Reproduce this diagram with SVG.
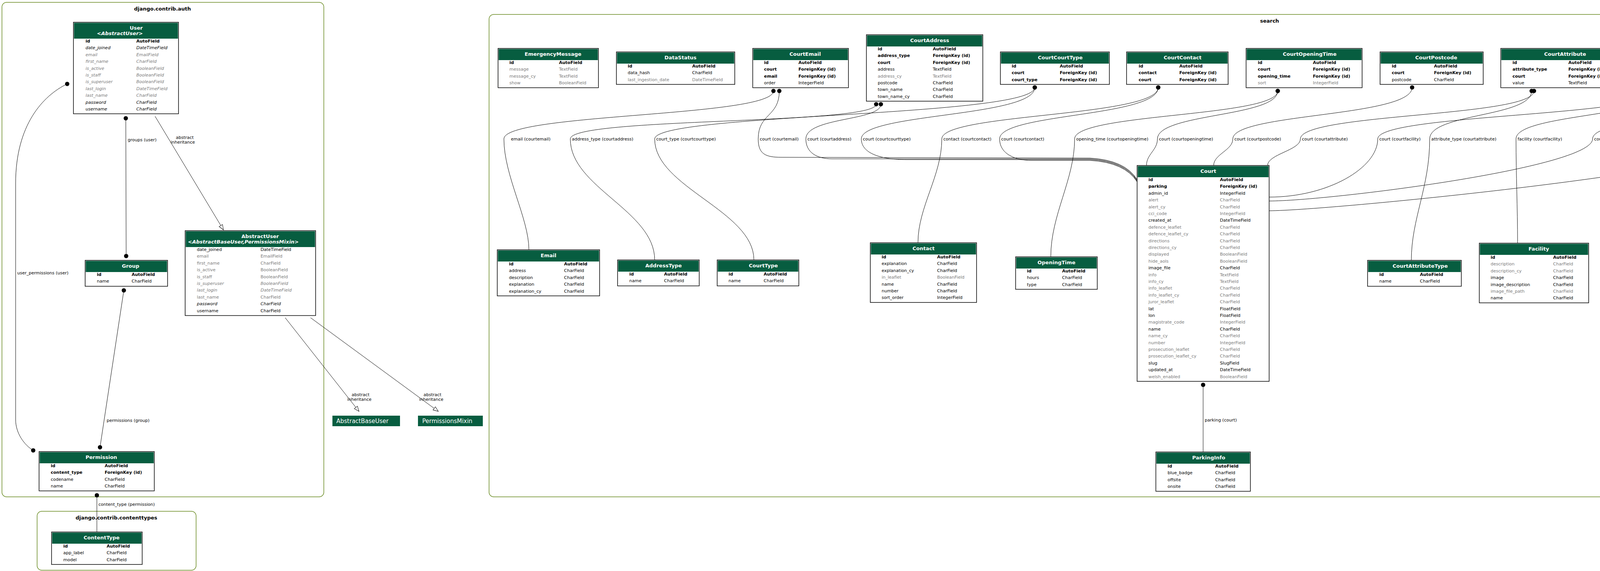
<svg xmlns="http://www.w3.org/2000/svg" width="6539" height="1463" viewBox="0 0 6539 1463">
<style>
text{font-family:"DejaVu Sans",sans-serif;font-size:11px;fill:#000}
.g{fill:#7b7b7b}
.b{font-weight:bold}
.i{font-style:italic}
.h{font-size:13px;font-weight:bold;fill:#fff}
.hb{font-size:15px;fill:#fff}
.ct{font-size:13px;font-weight:bold;text-anchor:middle}
.lm{text-anchor:middle}
.box{fill:#fff;stroke:#000;stroke-width:1.5}
.hd{fill:#075d40}
.cl{fill:none;stroke:#698b22;stroke-width:1.5}
.e{fill:none;stroke:#000;stroke-width:1}
.fk{marker-start:url(#dot)}
.mm{marker-start:url(#dot);marker-end:url(#dot)}
.ih{marker-end:url(#inh)}
</style>
<defs>
<marker id="dot" markerWidth="12" markerHeight="12" refX="6" refY="6" markerUnits="userSpaceOnUse"><circle cx="6" cy="6" r="5.5" fill="#000"/></marker>
<marker id="inh" markerWidth="16" markerHeight="12" refX="14" refY="6" orient="auto" markerUnits="userSpaceOnUse"><path d="M1,1 L14,6 L1,11 z" fill="#fff" stroke="#000" stroke-width="1"/></marker>
</defs>
<rect width="6539" height="1463" fill="#fff"/>

<g id="clusters">
<rect class="cl" x="5" y="6" width="824" height="1267" rx="12"/>
<text class="ct" x="416" y="27">django.contrib.auth</text>
<rect class="cl" x="95" y="1310" width="407" height="151" rx="12"/>
<text class="ct" x="298" y="1331">django.contrib.contenttypes</text>
<rect class="cl" x="1252" y="37" width="3995" height="1236" rx="12"/>
<text class="ct" x="3250" y="58">search</text>
<rect class="cl" x="5260" y="29" width="892" height="255" rx="12"/>
<text class="ct" x="5706" y="48">admin</text>
<rect class="cl" x="6163" y="75" width="371" height="673" rx="12"/>
<text class="ct" x="6348" y="95">django.contrib.sessions</text>
</g>

<g id="connectors">
<path class="e mm" d="M322,303 L323,656"/>
<path class="e mm" d="M172,215 C110,245 40,320 40,470 L40,1075 C40,1110 62,1140 85,1154"/>
<path class="e mm" d="M317,744 L256,1146"/>
<path class="e fk" d="M248,1269 L248,1363"/>
<path class="e ih" d="M397,298 L572,589"/>
<path class="e ih" d="M730,814 L919,1054"/>
<path class="e ih" d="M795,814 L1122,1054"/>
<path class="e ih" d="M6348,228 L6348,664"/>
<path class="e fk" d="M1980,233 C1980,300 1290,290 1290,356 C1290,450 1354,560 1354,640"/>
<path class="e fk" d="M1995,233 C1995,300 1941,290 1941,356 C1941,395 1960,403 2000,403 L2790,405 Q2880,410 2911,460"/>
<path class="e fk" d="M2243,267 C2243,320 1460,300 1460,356 C1460,480 1676,540 1676,666"/>
<path class="e fk" d="M2255,267 C2255,310 2063,300 2063,356 C2063,390 2090,407 2130,407 L2790,407 Q2880,412 2911,462"/>
<path class="e fk" d="M2649,224 C2649,300 1676,290 1676,356 C1676,480 1930,540 1930,666"/>
<path class="e fk" d="M2649,224 C2649,300 2205,290 2205,356 C2205,395 2260,409 2320,409 L2790,409 Q2880,414 2911,464"/>
<path class="e fk" d="M2965,224 C2965,300 2411,290 2411,356 C2411,450 2350,530 2350,622"/>
<path class="e fk" d="M2965,224 C2965,300 2559,290 2559,356 C2559,395 2600,411 2640,411 L2790,411 Q2880,416 2911,466"/>
<path class="e fk" d="M3271,233 C3271,300 2751,290 2751,356 C2751,460 2690,550 2690,658"/>
<path class="e fk" d="M3271,233 C3271,300 2963,290 2963,356 C2963,385 2935,395 2935,424"/>
<path class="e fk" d="M3615,224 C3615,300 3156,290 3156,356 C3156,385 3107,395 3107,424"/>
<path class="e fk" d="M3921,233 C3921,300 3660,290 3660,356 C3660,480 3613,560 3613,667"/>
<path class="e fk" d="M3927,233 C3927,300 3329,290 3329,356 C3329,385 3245,395 3245,424"/>
<path class="e fk" d="M4267,224 C4267,300 3527,290 3527,356 C3527,430 3400,505 3249,505"/>
<path class="e fk" d="M4267,224 C4267,300 3881,290 3881,356 C3881,450 3885,530 3885,623"/>
<path class="e fk" d="M4581,233 C4581,300 4228,290 4228,356 C4228,450 4225,530 4225,615"/>
<path class="e fk" d="M4581,233 C4581,300 4077,290 4077,356 C4077,430 3400,515 3249,515"/>
<path class="e fk" d="M4945,233 L4386,615"/>
<path class="e fk" d="M4958,233 C4958,300 4508,290 4508,356 C4508,430 3400,540 3249,540"/>
<path class="e fk" d="M5025,235 L4982,667"/>
<path class="e fk" d="M3080,986 L3080,1158"/>
<text x="327" y="362">groups (user)</text>
<text x="44" y="703">user_permissions (user)</text>
<text x="273" y="1081">permissions (group)</text>
<text x="252" y="1296">content_type (permission)</text>
<text class="lm" x="473" y="356">abstract</text><text class="lm" x="468" y="368">inheritance</text>
<text class="lm" x="923" y="1015">abstract</text><text class="lm" x="920" y="1027">inheritance</text>
<text class="lm" x="1107" y="1015">abstract</text><text class="lm" x="1104" y="1027">inheritance</text>
<text class="lm" x="6382" y="354">abstract</text><text class="lm" x="6380" y="366">inheritance</text>
<text x="1308" y="360">email (courtemail)</text>
<text x="1464" y="360">address_type (courtaddress)</text>
<text x="1680" y="360">court_type (courtcourttype)</text>
<text x="1945" y="360">court (courtemail)</text>
<text x="2067" y="360">court (courtaddress)</text>
<text x="2209" y="360">court (courtcourttype)</text>
<text x="2415" y="360">contact (courtcontact)</text>
<text x="2563" y="360">court (courtcontact)</text>
<text x="2755" y="360">opening_time (courtopeningtime)</text>
<text x="2967" y="360">court (courtopeningtime)</text>
<text x="3160" y="360">court (courtpostcode)</text>
<text x="3333" y="360">court (courtattribute)</text>
<text x="3531" y="360">court (courtfacility)</text>
<text x="3664" y="360">attribute_type (courtattribute)</text>
<text x="3885" y="360">facility (courtfacility)</text>
<text x="4081" y="360">court (courtareaoflaw)</text>
<text x="4232" y="360">area_of_law (courtareaoflaw)</text>
<text x="4512" y="360">court (courtlocalauthorityareaoflaw)</text>
<text x="4763" y="360">area_of_law (courtlocalauthorityareaoflaw)</text>
<text x="5018" y="360">local_authority (courtlocalauthorityareaoflaw)</text>
<text x="3084" y="1080">parking (court)</text>
</g>

<g id="n-User">
<rect class="box" x="188" y="57" width="269" height="234.5"/>
<rect class="hd" x="189.5" y="58.5" width="266" height="40.5"/>
<text class="h" x="332" y="76">User</text>
<text class="h i" x="248" y="89.5">&lt;AbstractUser&gt;</text>
<text class="b" x="219" y="109">id</text><text class="b" x="349" y="109">AutoField</text>
<text class="i" x="219" y="126.4">date_joined</text><text class="i" x="349" y="126.4">DateTimeField</text>
<text class="i g" x="219" y="143.8">email</text><text class="i g" x="349" y="143.8">EmailField</text>
<text class="i g" x="219" y="161.2">first_name</text><text class="i g" x="349" y="161.2">CharField</text>
<text class="i g" x="219" y="178.6">is_active</text><text class="i g" x="349" y="178.6">BooleanField</text>
<text class="i g" x="219" y="196">is_staff</text><text class="i g" x="349" y="196">BooleanField</text>
<text class="i g" x="219" y="213.4">is_superuser</text><text class="i g" x="349" y="213.4">BooleanField</text>
<text class="i g" x="219" y="230.8">last_login</text><text class="i g" x="349" y="230.8">DateTimeField</text>
<text class="i g" x="219" y="248.2">last_name</text><text class="i g" x="349" y="248.2">CharField</text>
<text class="i" x="219" y="265.6">password</text><text class="i" x="349" y="265.6">CharField</text>
<text class="i" x="219" y="283">username</text><text class="i" x="349" y="283">CharField</text>
</g>

<g id="n-AbstractUser">
<rect class="box" x="474" y="591" width="334" height="217.5"/>
<rect class="hd" x="475.5" y="592.5" width="331" height="40.5"/>
<text class="h" x="618" y="610">AbstractUser</text>
<text class="h i" x="481" y="623.5">&lt;AbstractBaseUser,PermissionsMixin&gt;</text>
<text x="504" y="643">date_joined</text><text x="667" y="643">DateTimeField</text>
<text class="g" x="504" y="660.4">email</text><text class="g" x="667" y="660.4">EmailField</text>
<text class="g" x="504" y="677.8">first_name</text><text class="g" x="667" y="677.8">CharField</text>
<text class="g" x="504" y="695.2">is_active</text><text class="g" x="667" y="695.2">BooleanField</text>
<text class="g" x="504" y="712.6">is_staff</text><text class="g" x="667" y="712.6">BooleanField</text>
<text class="g i" x="504" y="730">is_superuser</text><text class="g i" x="667" y="730">BooleanField</text>
<text class="g i" x="504" y="747.4">last_login</text><text class="g i" x="667" y="747.4">DateTimeField</text>
<text class="g" x="504" y="764.8">last_name</text><text class="g" x="667" y="764.8">CharField</text>
<text class="i" x="504" y="782.2">password</text><text class="i" x="667" y="782.2">CharField</text>
<text x="504" y="799.6">username</text><text x="667" y="799.6">CharField</text>
</g>

<g id="n-Group">
<rect class="box" x="218" y="667" width="211" height="66.5"/>
<rect class="hd" x="219.5" y="668.5" width="208" height="28.5"/>
<text class="h" x="312" y="685.5">Group</text>
<text class="b" x="248" y="707">id</text><text class="b" x="337" y="707">AutoField</text>
<text x="248" y="724.4">name</text><text x="337" y="724.4">CharField</text>
</g>

<g id="n-Permission">
<rect class="box" x="100" y="1157" width="295" height="100.7"/>
<rect class="hd" x="101.5" y="1158.5" width="292" height="28.5"/>
<text class="h" x="219" y="1175.5">Permission</text>
<text class="b" x="130" y="1197">id</text><text class="b" x="268" y="1197">AutoField</text>
<text class="b" x="130" y="1214.4">content_type</text><text class="b" x="268" y="1214.4">ForeignKey (id)</text>
<text x="130" y="1231.8">codename</text><text x="268" y="1231.8">CharField</text>
<text x="130" y="1249.2">name</text><text x="268" y="1249.2">CharField</text>
</g>

<g id="n-ContentType">
<rect class="box" x="132" y="1363" width="232" height="83.3"/>
<rect class="hd" x="133.5" y="1364.5" width="229" height="28.5"/>
<text class="h" x="214" y="1381.5">ContentType</text>
<text class="b" x="162" y="1403">id</text><text class="b" x="273" y="1403">AutoField</text>
<text x="162" y="1420.4">app_label</text><text x="273" y="1420.4">CharField</text>
<text x="162" y="1437.8">model</text><text x="273" y="1437.8">CharField</text>
</g>

<g id="n-AbstractBaseUser">
<rect class="hd" x="851" y="1065" width="173" height="27"/>
<text class="hb" x="861" y="1083.5">AbstractBaseUser</text>
</g>
<g id="n-PermissionsMixin">
<rect class="hd" x="1070" y="1065" width="166" height="27"/>
<text class="hb" x="1081" y="1083.5">PermissionsMixin</text>
</g>

<g id="n-EmergencyMessage">
<rect class="box" x="1275" y="124" width="257" height="100.7"/>
<rect class="hd" x="1276.5" y="125.5" width="254" height="28.5"/>
<text class="h" x="1343" y="142.5">EmergencyMessage</text>
<text class="b" x="1304" y="164">id</text><text class="b" x="1431" y="164">AutoField</text>
<text class="g" x="1304" y="181.4">message</text><text class="g" x="1431" y="181.4">TextField</text>
<text class="g" x="1304" y="198.8">message_cy</text><text class="g" x="1431" y="198.8">TextField</text>
<text class="g" x="1304" y="216.2">show</text><text class="g" x="1431" y="216.2">BooleanField</text>
</g>

<g id="n-DataStatus">
<rect class="box" x="1578" y="133" width="303" height="83.3"/>
<rect class="hd" x="1579.5" y="134.5" width="300" height="28.5"/>
<text class="h" x="1701" y="151.5">DataStatus</text>
<text class="b" x="1607" y="173">id</text><text class="b" x="1772" y="173">AutoField</text>
<text x="1607" y="190.4">data_hash</text><text x="1772" y="190.4">CharField</text>
<text class="g" x="1607" y="207.8">last_ingestion_date</text><text class="g" x="1772" y="207.8">DateTimeField</text>
</g>

<g id="n-CourtEmail">
<rect class="box" x="1927" y="124" width="245" height="100.7"/>
<rect class="hd" x="1928.5" y="125.5" width="242" height="28.5"/>
<text class="h" x="2021" y="142.5">CourtEmail</text>
<text class="b" x="1956" y="164">id</text><text class="b" x="2044" y="164">AutoField</text>
<text class="b" x="1956" y="181.4">court</text><text class="b" x="2044" y="181.4">ForeignKey (id)</text>
<text class="b" x="1956" y="198.8">email</text><text class="b" x="2044" y="198.8">ForeignKey (id)</text>
<text x="1956" y="216.2">order</text><text x="2044" y="216.2">IntegerField</text>
</g>

<g id="n-CourtAddress">
<rect class="box" x="2218" y="89" width="298" height="170.3"/>
<rect class="hd" x="2219.5" y="90.5" width="295" height="28.5"/>
<text class="h" x="2330" y="107.5">CourtAddress</text>
<text class="b" x="2247" y="129">id</text><text class="b" x="2388" y="129">AutoField</text>
<text class="b" x="2247" y="146.4">address_type</text><text class="b" x="2388" y="146.4">ForeignKey (id)</text>
<text class="b" x="2247" y="163.8">court</text><text class="b" x="2388" y="163.8">ForeignKey (id)</text>
<text x="2247" y="181.2">address</text><text x="2388" y="181.2">TextField</text>
<text class="g" x="2247" y="198.6">address_cy</text><text class="g" x="2388" y="198.6">TextField</text>
<text x="2247" y="216">postcode</text><text x="2388" y="216">CharField</text>
<text x="2247" y="233.4">town_name</text><text x="2388" y="233.4">CharField</text>
<text x="2247" y="250.8">town_name_cy</text><text x="2388" y="250.8">CharField</text>
</g>

<g id="n-CourtCourtType">
<rect class="box" x="2561" y="133" width="279" height="83.3"/>
<rect class="hd" x="2562.5" y="134.5" width="276" height="28.5"/>
<text class="h" x="2657" y="151.5">CourtCourtType</text>
<text class="b" x="2590" y="173">id</text><text class="b" x="2713" y="173">AutoField</text>
<text class="b" x="2590" y="190.4">court</text><text class="b" x="2713" y="190.4">ForeignKey (id)</text>
<text class="b" x="2590" y="207.8">court_type</text><text class="b" x="2713" y="207.8">ForeignKey (id)</text>
</g>

<g id="n-CourtContact">
<rect class="box" x="2884" y="133" width="260" height="83.3"/>
<rect class="hd" x="2885.5" y="134.5" width="257" height="28.5"/>
<text class="h" x="2979" y="151.5">CourtContact</text>
<text class="b" x="2915" y="173">id</text><text class="b" x="3019" y="173">AutoField</text>
<text class="b" x="2915" y="190.4">contact</text><text class="b" x="3019" y="190.4">ForeignKey (id)</text>
<text class="b" x="2915" y="207.8">court</text><text class="b" x="3019" y="207.8">ForeignKey (id)</text>
</g>

<g id="n-CourtOpeningTime">
<rect class="box" x="3190" y="124" width="297" height="100.7"/>
<rect class="hd" x="3191.5" y="125.5" width="294" height="28.5"/>
<text class="h" x="3284" y="142.5">CourtOpeningTime</text>
<text class="b" x="3220" y="164">id</text><text class="b" x="3361" y="164">AutoField</text>
<text class="b" x="3220" y="181.4">court</text><text class="b" x="3361" y="181.4">ForeignKey (id)</text>
<text class="b" x="3220" y="198.8">opening_time</text><text class="b" x="3361" y="198.8">ForeignKey (id)</text>
<text class="g" x="3220" y="216.2">sort</text><text class="g" x="3361" y="216.2">IntegerField</text>
</g>

<g id="n-CourtPostcode">
<rect class="box" x="3533" y="133" width="264" height="83.3"/>
<rect class="hd" x="3534.5" y="134.5" width="261" height="28.5"/>
<text class="h" x="3623" y="151.5">CourtPostcode</text>
<text class="b" x="3563" y="173">id</text><text class="b" x="3671" y="173">AutoField</text>
<text class="b" x="3563" y="190.4">court</text><text class="b" x="3671" y="190.4">ForeignKey (id)</text>
<text x="3563" y="207.8">postcode</text><text x="3671" y="207.8">CharField</text>
</g>

<g id="n-CourtAttribute">
<rect class="box" x="3842" y="124" width="300" height="100.7"/>
<rect class="hd" x="3843.5" y="125.5" width="297" height="28.5"/>
<text class="h" x="3953" y="142.5">CourtAttribute</text>
<text class="b" x="3872" y="164">id</text><text class="b" x="4015" y="164">AutoField</text>
<text class="b" x="3872" y="181.4">attribute_type</text><text class="b" x="4015" y="181.4">ForeignKey (id)</text>
<text class="b" x="3872" y="198.8">court</text><text class="b" x="4015" y="198.8">ForeignKey (id)</text>
<text x="3872" y="216.2">value</text><text x="4015" y="216.2">TextField</text>
</g>

<g id="n-CourtFacility">
<rect class="box" x="4188" y="133" width="256" height="83.3"/>
<rect class="hd" x="4189.5" y="134.5" width="253" height="28.5"/>
<text class="h" x="4283" y="151.5">CourtFacility</text>
<text class="b" x="4217" y="173">id</text><text class="b" x="4317" y="173">AutoField</text>
<text class="b" x="4217" y="190.4">court</text><text class="b" x="4317" y="190.4">ForeignKey (id)</text>
<text class="b" x="4217" y="207.8">facility</text><text class="b" x="4317" y="207.8">ForeignKey (id)</text>
</g>

<g id="n-CourtAreaOfLaw">
<rect class="box" x="4489" y="124" width="334" height="100.7"/>
<rect class="hd" x="4490.5" y="125.5" width="331" height="28.5"/>
<text class="h" x="4608" y="142.5">CourtAreaOfLaw</text>
<text class="b" x="4519" y="164">id</text><text class="b" x="4696" y="164">AutoField</text>
<text class="b" x="4519" y="181.4">area_of_law</text><text class="b" x="4696" y="181.4">ForeignKey (id)</text>
<text class="b" x="4519" y="198.8">court</text><text class="b" x="4696" y="198.8">ForeignKey (id)</text>
<text class="g" x="4519" y="216.2">single_point_of_entry</text><text class="g" x="4696" y="216.2">BooleanField</text>
</g>

<g id="n-CourtLocalAuthorityAreaOfLaw">
<rect class="box" x="4868" y="124" width="327" height="100.7"/>
<rect class="hd" x="4869.5" y="125.5" width="324" height="28.5"/>
<text class="h" x="4933" y="142.5">CourtLocalAuthorityAreaOfLaw</text>
<text class="b" x="4899" y="164">id</text><text class="b" x="5059" y="164">AutoField</text>
<text class="b" x="4899" y="181.4">area_of_law</text><text class="b" x="5059" y="181.4">ForeignKey (id)</text>
<text class="b" x="4899" y="198.8">court</text><text class="b" x="5059" y="198.8">ForeignKey (id)</text>
<text class="b" x="4899" y="216.2">local_authority</text><text class="b" x="5059" y="216.2">ForeignKey (id)</text>
</g>

<g id="n-Court">
<rect class="box" x="2911" y="424" width="338" height="553.1"/>
<rect class="hd" x="2912.5" y="425.5" width="335" height="28.5"/>
<text class="h" x="3073" y="442.5">Court</text>
<text class="b" x="2940" y="464">id</text><text class="b" x="3123" y="464">AutoField</text>
<text class="b" x="2940" y="481.4">parking</text><text class="b" x="3123" y="481.4">ForeignKey (id)</text>
<text x="2940" y="498.8">admin_id</text><text x="3123" y="498.8">IntegerField</text>
<text class="g" x="2940" y="516.2">alert</text><text class="g" x="3123" y="516.2">CharField</text>
<text class="g" x="2940" y="533.6">alert_cy</text><text class="g" x="3123" y="533.6">CharField</text>
<text class="g" x="2940" y="551">cci_code</text><text class="g" x="3123" y="551">IntegerField</text>
<text x="2940" y="568.4">created_at</text><text x="3123" y="568.4">DateTimeField</text>
<text class="g" x="2940" y="585.8">defence_leaflet</text><text class="g" x="3123" y="585.8">CharField</text>
<text class="g" x="2940" y="603.2">defence_leaflet_cy</text><text class="g" x="3123" y="603.2">CharField</text>
<text class="g" x="2940" y="620.6">directions</text><text class="g" x="3123" y="620.6">CharField</text>
<text class="g" x="2940" y="638">directions_cy</text><text class="g" x="3123" y="638">CharField</text>
<text class="g" x="2940" y="655.4">displayed</text><text class="g" x="3123" y="655.4">BooleanField</text>
<text class="g" x="2940" y="672.8">hide_aols</text><text class="g" x="3123" y="672.8">BooleanField</text>
<text x="2940" y="690.2">image_file</text><text x="3123" y="690.2">CharField</text>
<text class="g" x="2940" y="707.6">info</text><text class="g" x="3123" y="707.6">TextField</text>
<text class="g" x="2940" y="725">info_cy</text><text class="g" x="3123" y="725">TextField</text>
<text class="g" x="2940" y="742.4">info_leaflet</text><text class="g" x="3123" y="742.4">CharField</text>
<text class="g" x="2940" y="759.8">info_leaflet_cy</text><text class="g" x="3123" y="759.8">CharField</text>
<text class="g" x="2940" y="777.2">juror_leaflet</text><text class="g" x="3123" y="777.2">CharField</text>
<text x="2940" y="794.6">lat</text><text x="3123" y="794.6">FloatField</text>
<text x="2940" y="812">lon</text><text x="3123" y="812">FloatField</text>
<text class="g" x="2940" y="829.4">magistrate_code</text><text class="g" x="3123" y="829.4">IntegerField</text>
<text x="2940" y="846.8">name</text><text x="3123" y="846.8">CharField</text>
<text class="g" x="2940" y="864.2">name_cy</text><text class="g" x="3123" y="864.2">CharField</text>
<text class="g" x="2940" y="881.6">number</text><text class="g" x="3123" y="881.6">IntegerField</text>
<text class="g" x="2940" y="899">prosecution_leaflet</text><text class="g" x="3123" y="899">CharField</text>
<text class="g" x="2940" y="916.4">prosecution_leaflet_cy</text><text class="g" x="3123" y="916.4">CharField</text>
<text x="2940" y="933.8">slug</text><text x="3123" y="933.8">SlugField</text>
<text x="2940" y="951.2">updated_at</text><text x="3123" y="951.2">DateTimeField</text>
<text class="g" x="2940" y="968.6">welsh_enabled</text><text class="g" x="3123" y="968.6">BooleanField</text>
</g>

<g id="n-ParkingInfo">
<rect class="box" x="2959" y="1158" width="242" height="100.7"/>
<rect class="hd" x="2960.5" y="1159.5" width="239" height="28.5"/>
<text class="h" x="3052" y="1176.5">ParkingInfo</text>
<text class="b" x="2989" y="1198">id</text><text class="b" x="3111" y="1198">AutoField</text>
<text x="2989" y="1215.4">blue_badge</text><text x="3111" y="1215.4">CharField</text>
<text x="2989" y="1232.8">offsite</text><text x="3111" y="1232.8">CharField</text>
<text x="2989" y="1250.2">onsite</text><text x="3111" y="1250.2">CharField</text>
</g>

<g id="n-Email">
<rect class="box" x="1273" y="640" width="262" height="118.1"/>
<rect class="hd" x="1274.5" y="641.5" width="259" height="28.5"/>
<text class="h" x="1384" y="658.5">Email</text>
<text class="b" x="1303" y="680">id</text><text class="b" x="1444" y="680">AutoField</text>
<text x="1303" y="697.4">address</text><text x="1444" y="697.4">CharField</text>
<text x="1303" y="714.8">description</text><text x="1444" y="714.8">CharField</text>
<text x="1303" y="732.2">explanation</text><text x="1444" y="732.2">CharField</text>
<text x="1303" y="749.6">explanation_cy</text><text x="1444" y="749.6">CharField</text>
</g>

<g id="n-AddressType">
<rect class="box" x="1581" y="666" width="209" height="66.5"/>
<rect class="hd" x="1582.5" y="667.5" width="206" height="28.5"/>
<text class="h" x="1652" y="684.5">AddressType</text>
<text class="b" x="1611" y="706">id</text><text class="b" x="1700" y="706">AutoField</text>
<text x="1611" y="723.4">name</text><text x="1700" y="723.4">CharField</text>
</g>

<g id="n-CourtType">
<rect class="box" x="1836" y="666" width="209" height="66.5"/>
<rect class="hd" x="1837.5" y="667.5" width="206" height="28.5"/>
<text class="h" x="1917" y="684.5">CourtType</text>
<text class="b" x="1865" y="706">id</text><text class="b" x="1955" y="706">AutoField</text>
<text x="1865" y="723.4">name</text><text x="1955" y="723.4">CharField</text>
</g>

<g id="n-Contact">
<rect class="box" x="2228" y="622" width="272" height="152.9"/>
<rect class="hd" x="2229.5" y="623.5" width="269" height="28.5"/>
<text class="h" x="2336" y="640.5">Contact</text>
<text class="b" x="2257" y="662">id</text><text class="b" x="2399" y="662">AutoField</text>
<text x="2257" y="679.4">explanation</text><text x="2399" y="679.4">CharField</text>
<text x="2257" y="696.8">explanation_cy</text><text x="2399" y="696.8">CharField</text>
<text class="g" x="2257" y="714.2">in_leaflet</text><text class="g" x="2399" y="714.2">BooleanField</text>
<text x="2257" y="731.6">name</text><text x="2399" y="731.6">CharField</text>
<text x="2257" y="749">number</text><text x="2399" y="749">CharField</text>
<text x="2257" y="766.4">sort_order</text><text x="2399" y="766.4">IntegerField</text>
</g>

<g id="n-OpeningTime">
<rect class="box" x="2600" y="658" width="209" height="83.3"/>
<rect class="hd" x="2601.5" y="659.5" width="206" height="28.5"/>
<text class="h" x="2656" y="676.5">OpeningTime</text>
<text class="b" x="2629" y="698">id</text><text class="b" x="2719" y="698">AutoField</text>
<text x="2629" y="715.4">hours</text><text x="2719" y="715.4">CharField</text>
<text x="2629" y="732.8">type</text><text x="2719" y="732.8">CharField</text>
</g>

<g id="n-CourtAttributeType">
<rect class="box" x="3501" y="667" width="240" height="66.5"/>
<rect class="hd" x="3502.5" y="668.5" width="237" height="28.5"/>
<text class="h" x="3565" y="685.5">CourtAttributeType</text>
<text class="b" x="3531" y="707">id</text><text class="b" x="3635" y="707">AutoField</text>
<text x="3531" y="724.4">name</text><text x="3635" y="724.4">CharField</text>
</g>

<g id="n-Facility">
<rect class="box" x="3787" y="623" width="280" height="152.9"/>
<rect class="hd" x="3788.5" y="624.5" width="277" height="28.5"/>
<text class="h" x="3913" y="641.5">Facility</text>
<text class="b" x="3816" y="663">id</text><text class="b" x="3976" y="663">AutoField</text>
<text class="g" x="3816" y="680.4">description</text><text class="g" x="3976" y="680.4">CharField</text>
<text class="g" x="3816" y="697.8">description_cy</text><text class="g" x="3976" y="697.8">CharField</text>
<text x="3816" y="715.2">image</text><text x="3976" y="715.2">CharField</text>
<text x="3816" y="732.6">image_description</text><text x="3976" y="732.6">CharField</text>
<text class="g" x="3816" y="750">image_file_path</text><text class="g" x="3976" y="750">CharField</text>
<text x="3816" y="767.4">name</text><text x="3976" y="767.4">CharField</text>
</g>

<g id="n-AreaOfLaw">
<rect class="box" x="4118" y="615" width="300" height="170.3"/>
<rect class="hd" x="4119.5" y="616.5" width="297" height="28.5"/>
<text class="h" x="4241" y="633.5">AreaOfLaw</text>
<text class="b" x="4148" y="655">id</text><text class="b" x="4328" y="655">AutoField</text>
<text class="g" x="4148" y="672.4">alt_name</text><text class="g" x="4328" y="672.4">CharField</text>
<text class="g" x="4148" y="689.8">alt_name_cy</text><text class="g" x="4328" y="689.8">CharField</text>
<text x="4148" y="707.2">external_link</text><text x="4328" y="707.2">CharField</text>
<text class="g" x="4148" y="724.6">external_link_cy</text><text class="g" x="4328" y="724.6">CharField</text>
<text x="4148" y="742">external_link_desc</text><text x="4328" y="742">CharField</text>
<text class="g" x="4148" y="759.4">external_link_desc_cy</text><text class="g" x="4328" y="759.4">CharField</text>
<text x="4148" y="776.8">name</text><text x="4328" y="776.8">CharField</text>
</g>

<g id="n-LocalAuthority">
<rect class="box" x="4872" y="667" width="211" height="66.5"/>
<rect class="hd" x="4873.5" y="668.5" width="208" height="28.5"/>
<text class="h" x="4938" y="685.5">LocalAuthority</text>
<text class="b" x="4903" y="707">id</text><text class="b" x="4992" y="707">AutoField</text>
<text x="4903" y="724.4">name</text><text x="4992" y="724.4">TextField</text>
</g>

<g id="n-OpeningType">
<rect class="box" x="5280" y="133" width="229" height="83.3"/>
<rect class="hd" x="5281.5" y="134.5" width="226" height="28.5"/>
<text class="h" x="5361" y="151.5">OpeningType</text>
<text class="b" x="5311" y="173">id</text><text class="b" x="5419" y="173">AutoField</text>
<text x="5311" y="190.4">name</text><text x="5419" y="190.4">CharField</text>
<text class="g" x="5311" y="207.8">name_cy</text><text class="g" x="5419" y="207.8">CharField</text>
</g>

<g id="n-ContactType">
<rect class="box" x="5554" y="133" width="228" height="83.3"/>
<rect class="hd" x="5555.5" y="134.5" width="225" height="28.5"/>
<text class="h" x="5636" y="151.5">ContactType</text>
<text class="b" x="5585" y="173">id</text><text class="b" x="5692" y="173">AutoField</text>
<text x="5585" y="190.4">name</text><text x="5692" y="190.4">CharField</text>
<text class="g" x="5585" y="207.8">name_cy</text><text class="g" x="5692" y="207.8">CharField</text>
</g>

<g id="n-FacilityType">
<rect class="box" x="5828" y="80" width="303" height="187.7"/>
<rect class="hd" x="5829.5" y="81.5" width="300" height="28.5"/>
<text class="h" x="5950" y="98.5">FacilityType</text>
<text class="b" x="5858" y="120">id</text><text class="b" x="6036" y="120">AutoField</text>
<text class="g" x="5858" y="137.4">description</text><text class="g" x="6036" y="137.4">CharField</text>
<text x="5858" y="154.8">image</text><text x="6036" y="154.8">CharField</text>
<text x="5858" y="172.2">image_description</text><text x="6036" y="172.2">CharField</text>
<text class="g" x="5858" y="189.6">image_description_cy</text><text class="g" x="6036" y="189.6">CharField</text>
<text class="g" x="5858" y="207">image_file_path</text><text class="g" x="6036" y="207">CharField</text>
<text x="5858" y="224.4">name</text><text x="6036" y="224.4">CharField</text>
<text class="g" x="5858" y="241.8">name_cy</text><text class="g" x="6036" y="241.8">CharField</text>
<text x="5858" y="259.2">order</text><text x="6036" y="259.2">IntegerField</text>
</g>

<g id="n-Session">
<rect class="box" x="6213" y="127" width="271" height="95.3"/>
<rect class="hd" x="6214.5" y="128.5" width="268" height="40.5"/>
<text class="h" x="6349" y="145">Session</text>
<text class="h i" x="6246" y="158.5">&lt;AbstractBaseSession&gt;</text>
<text class="b i" x="6243" y="179">session_key</text><text class="b i" x="6376" y="179">CharField</text>
<text class="i" x="6243" y="196.4">expire_date</text><text class="i" x="6376" y="196.4">DateTimeField</text>
<text class="i" x="6243" y="213.8">session_data</text><text class="i" x="6376" y="213.8">TextField</text>
</g>

<g id="n-AbstractBaseSession">
<rect class="box" x="6214" y="666" width="268" height="66.5"/>
<rect class="hd" x="6215.5" y="667.5" width="265" height="28.5"/>
<text class="h" x="6285" y="684.5">AbstractBaseSession</text>
<text x="6244" y="706">expire_date</text><text x="6373" y="706">DateTimeField</text>
<text x="6244" y="723.4">session_data</text><text x="6373" y="723.4">TextField</text>
</g>
</svg>
